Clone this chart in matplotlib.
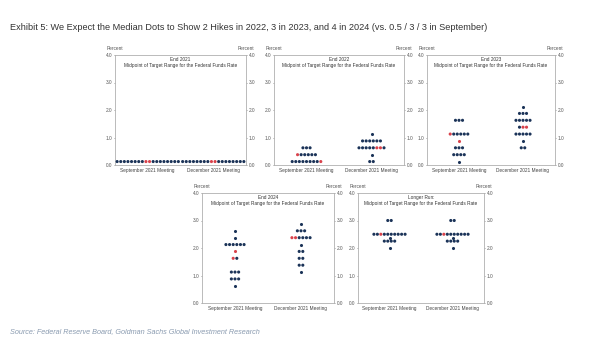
import matplotlib.pyplot as plt

plt.rcParams['font.family'] = ['Liberation Sans', 'DejaVu Sans']

NAVY = "#1b3358"
RED = "#d9424b"
GRID = "#b0b0b0"
SPACING = 0.055

meetings = ["September 2021 Meeting", "December 2021 Meeting"]
panel_names = ["End 2021", "End 2022", "End 2023", "End 2024", "Longer Run:"]
y_ticks = [0.0, 1.0, 2.0, 3.0, 4.0]

# dots per rate level, red = (rate, position in row)
e2021_sep_rates = [0.125]
e2021_sep_counts = [18]
e2021_sep_red = [(0.125, 8), (0.125, 9)]
e2021_dec_rates = [0.125]
e2021_dec_counts = [18]
e2021_dec_red = [(0.125, 8), (0.125, 9)]

e2022_sep_rates = [0.125, 0.375, 0.625]
e2022_sep_counts = [9, 6, 3]
e2022_sep_red = [(0.125, 8), (0.375, 0)]
e2022_dec_rates = [0.125, 0.375, 0.625, 0.875, 1.125]
e2022_dec_counts = [2, 1, 8, 6, 1]
e2022_dec_red = [(0.625, 5), (0.625, 6)]

e2023_sep_rates = [0.125, 0.375, 0.625, 0.875, 1.125, 1.625]
e2023_sep_counts = [1, 4, 3, 1, 6, 3]
e2023_sep_red = [(0.875, 0), (1.125, 0)]
e2023_dec_rates = [0.625, 0.875, 1.125, 1.375, 1.625, 1.875, 2.125]
e2023_dec_counts = [2, 1, 5, 3, 5, 3, 1]
e2023_dec_red = [(1.375, 1), (1.375, 2)]

e2024_sep_rates = [0.625, 0.875, 1.125, 1.625, 1.875, 2.125, 2.375, 2.625]
e2024_sep_counts = [1, 3, 3, 2, 1, 6, 1, 1]
e2024_sep_red = [(1.625, 0), (1.875, 0)]
e2024_dec_rates = [1.125, 1.375, 1.625, 1.875, 2.125, 2.375, 2.625, 2.875]
e2024_dec_counts = [1, 2, 2, 2, 1, 6, 3, 1]
e2024_dec_red = [(2.375, 0), (2.375, 1)]

lr_sep_rates = [2.0, 2.25, 2.375, 2.5, 3.0]
lr_sep_counts = [1, 4, 1, 10, 2]
lr_sep_red = [(2.5, 2)]
lr_dec_rates = [2.0, 2.25, 2.375, 2.5, 3.0]
lr_dec_counts = [1, 4, 1, 10, 2]
lr_dec_red = [(2.5, 2)]

panels = [
    [(e2021_sep_rates, e2021_sep_counts, e2021_sep_red), (e2021_dec_rates, e2021_dec_counts, e2021_dec_red)],
    [(e2022_sep_rates, e2022_sep_counts, e2022_sep_red), (e2022_dec_rates, e2022_dec_counts, e2022_dec_red)],
    [(e2023_sep_rates, e2023_sep_counts, e2023_sep_red), (e2023_dec_rates, e2023_dec_counts, e2023_dec_red)],
    [(e2024_sep_rates, e2024_sep_counts, e2024_sep_red), (e2024_dec_rates, e2024_dec_counts, e2024_dec_red)],
    [(lr_sep_rates, lr_sep_counts, lr_sep_red), (lr_dec_rates, lr_dec_counts, lr_dec_red)],
]

# axes boxes in pixels: left, right, top, bottom
boxes = [(115, 246, 55, 165), (274, 404, 55, 165), (427, 555, 55, 165),
         (202, 334, 193, 303), (358, 484, 193, 303)]

W, H = 600, 339
fig = plt.figure(figsize=(6, 3.39), dpi=100)

for name, data, (l, r, t, b) in zip(panel_names, panels, boxes):
    ax = fig.add_axes([l / W, (H - b) / H, (r - l) / W, (b - t) / H])
    for k, (rates, counts, red) in enumerate(data):
        xc = 0.5 + k
        for rate, n in zip(rates, counts):
            xs = [xc + (i - (n - 1) / 2) * SPACING for i in range(n)]
            cols = [RED if (rate, i) in red else NAVY for i in range(n)]
            ax.scatter(xs, [rate] * n, s=5, c=cols, linewidths=0, zorder=3)

    ax.set_xlim(0, 2)
    ax.set_ylim(0, 4)
    ax.set_yticks(y_ticks)
    ax.set_yticklabels([f"{v:.1f}" for v in y_ticks])
    ax.set_xticks([0.5, 1.5])
    ax.set_xticklabels(meetings)
    ax.tick_params(axis="y", left=True, right=True, labelleft=True, labelright=True,
                   length=1.0, width=0.4, pad=0.8, labelsize=3.4, colors="#555555")
    ax.tick_params(axis="x", length=0, pad=2.5, labelsize=3.4, colors="#444444")
    for sp in ax.spines.values():
        sp.set_color(GRID)
        sp.set_linewidth(0.6)

    ax.text(0.5, 0.955, name, transform=ax.transAxes, ha="center", va="center",
            fontsize=3.4, color="#333333")
    ax.text(0.5, 0.905, "Midpoint of Target Range for the Federal Funds Rate",
            transform=ax.transAxes, ha="center", va="center", fontsize=3.4, color="#333333")
    ax.text(0.0, 1.055, "Percent", transform=ax.transAxes, ha="center", va="center",
            fontsize=3.4, color="#555555")
    ax.text(1.0, 1.055, "Percent", transform=ax.transAxes, ha="center", va="center",
            fontsize=3.4, color="#555555")

fig.text(10 / W, 1 - 27 / H,
         "Exhibit 5: We Expect the Median Dots to Show 2 Hikes in 2022, 3 in 2023, "
         "and 4 in 2024 (vs. 0.5 / 3 / 3 in September)",
         fontsize=6.6, color="#333333", ha="left", va="center")
fig.text(10 / W, 1 - 332 / H,
         "Source: Federal Reserve Board, Goldman Sachs Global Investment Research",
         fontsize=5.2, style="italic", color="#8a9bb0", ha="left", va="center")

fig.savefig("out.png", dpi=100)
